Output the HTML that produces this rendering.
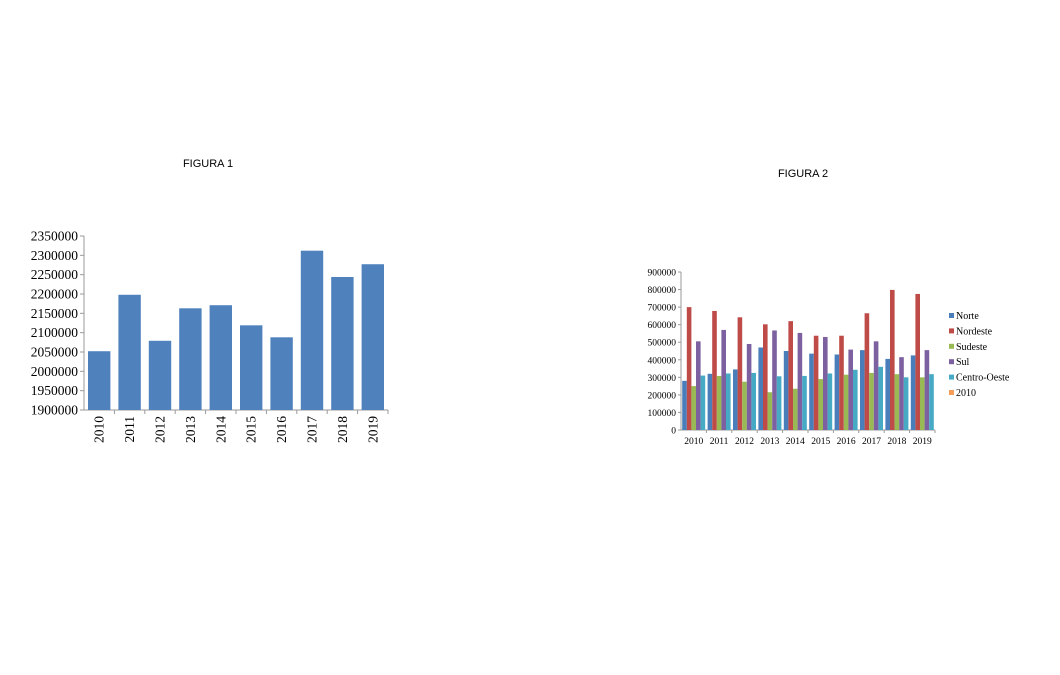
<!DOCTYPE html>
<html><head><meta charset="utf-8"><style>
body{margin:0;background:#fff;width:1060px;height:675px;overflow:hidden}
svg{display:block}
.t{font-family:"Liberation Sans",sans-serif;font-size:11px;fill:#000}
.s{font-family:"Liberation Serif",serif;fill:#000}
</style></head><body>
<svg id="svg" width="1060" height="675" xmlns="http://www.w3.org/2000/svg">
<text class="t" x="208" y="167" text-anchor="middle">FIGURA 1</text>
<text class="t" x="803" y="177" text-anchor="middle">FIGURA 2</text>
<g id="c1"></g>
<g id="c2"></g>
</svg>
<script>
const years=["2010","2011","2012","2013","2014","2015","2016","2017","2018","2019"];
const totals=[2052000,2198000,2079000,2163000,2171000,2119000,2088000,2312000,2244000,2277000];
const ticks1=[1900000,1950000,2000000,2050000,2100000,2150000,2200000,2250000,2300000,2350000];
const seriesNames=["Norte","Nordeste","Sudeste","Sul","Centro-Oeste","2010"];
const seriesColors=["#4a7ebb","#be4b48","#98b954","#7d60a0","#46aac5","#f59d56"];
const norte=[280000,320000,345000,470000,450000,435000,430000,455000,405000,425000];
const nordeste=[700000,678000,642000,602000,620000,537000,537000,665000,798000,775000];
const sudeste=[250000,308000,275000,215000,235000,290000,315000,325000,318000,300000];
const sul=[505000,570000,490000,567000,553000,530000,458000,505000,415000,455000];
const centro=[310000,322000,325000,306000,308000,322000,343000,360000,300000,318000];
const ticks2=[0,100000,200000,300000,400000,500000,600000,700000,800000,900000];
const NS="http://www.w3.org/2000/svg";
function mk(p,tag,at,txt){const e=document.createElementNS(NS,tag);for(const k in at)e.setAttribute(k,at[k]);if(txt!=null)e.textContent=txt;p.appendChild(e);return e;}
// Chart 1
(function(){
const g=document.getElementById('c1');
const x0=84,x1=388,yT=236,yB=410,mn=1900000,mx=2350000;
const y=v=>yB-(v-mn)/(mx-mn)*(yB-yT);
const cw=(x1-x0)/years.length;
mk(g,'line',{x1:x0,y1:yT,x2:x0,y2:yB,stroke:'#999'});
mk(g,'line',{x1:x0,y1:yB,x2:x1,y2:yB,stroke:'#999'});
ticks1.forEach(t=>{
mk(g,'line',{x1:x0-4,y1:y(t),x2:x0,y2:y(t),stroke:'#999'});
const l=mk(g,'text',{class:'s',x:x0-6,y:y(t)+4.5,'text-anchor':'end','font-size':'13.5'},String(t));


});
years.forEach((yr,i)=>{
mk(g,'line',{x1:x0+cw*(i+1),y1:yB,x2:x0+cw*(i+1),y2:yB+4,stroke:'#999'});
const b=mk(g,'rect',{x:x0+cw*i+4,y:y(totals[i]),width:cw-8,height:yB-y(totals[i]),fill:'#4f81bd'});


const cx=x0+cw*(i+0.5)+4.5;
const l=mk(g,'text',{class:'s',x:cx,y:yB+6,'text-anchor':'end','font-size':'13.5',transform:`rotate(-90 ${cx} ${yB+6})`},yr);


});
})();
// Chart 2
(function(){
const g=document.getElementById('c2');
const x0=681,x1=935,yT=272,yB=430,mx=900000;
const y=v=>yB-v/mx*(yB-yT);
const cw=(x1-x0)/years.length;
const data=[norte,nordeste,sudeste,sul,centro];
const bw=4.6;
mk(g,'line',{x1:x0,y1:yT,x2:x0,y2:yB,stroke:'#999'});
mk(g,'line',{x1:x0,y1:yB,x2:x1,y2:yB,stroke:'#999'});
ticks2.forEach(t=>{
mk(g,'line',{x1:x0-3,y1:y(t),x2:x0,y2:y(t),stroke:'#999'});
const l=mk(g,'text',{class:'s',x:x0-5,y:y(t)+3.5,'text-anchor':'end','font-size':'9.5'},String(t));


});
years.forEach((yr,i)=>{
mk(g,'line',{x1:x0+cw*(i+1),y1:yB,x2:x0+cw*(i+1),y2:yB+3,stroke:'#999'});
const gx=x0+cw*i+(cw-bw*5)/2;
data.forEach((s,j)=>{
const b=mk(g,'rect',{x:gx+bw*j,y:y(s[i]),width:bw,height:yB-y(s[i]),fill:seriesColors[j]});


});
const l=mk(g,'text',{class:'s',x:x0+cw*(i+0.5),y:yB+14,'text-anchor':'middle','font-size':'9.5'},yr);


});
seriesNames.forEach((n,j)=>{
const ly=318+15.4*j;
const e=mk(g,'g',{});


mk(e,'rect',{x:949,y:ly-5,width:5,height:5,fill:seriesColors[j]});
mk(e,'text',{class:'s',x:956,y:ly+1,'font-size':'10'},n);
});
})();
</script>
</body></html>
